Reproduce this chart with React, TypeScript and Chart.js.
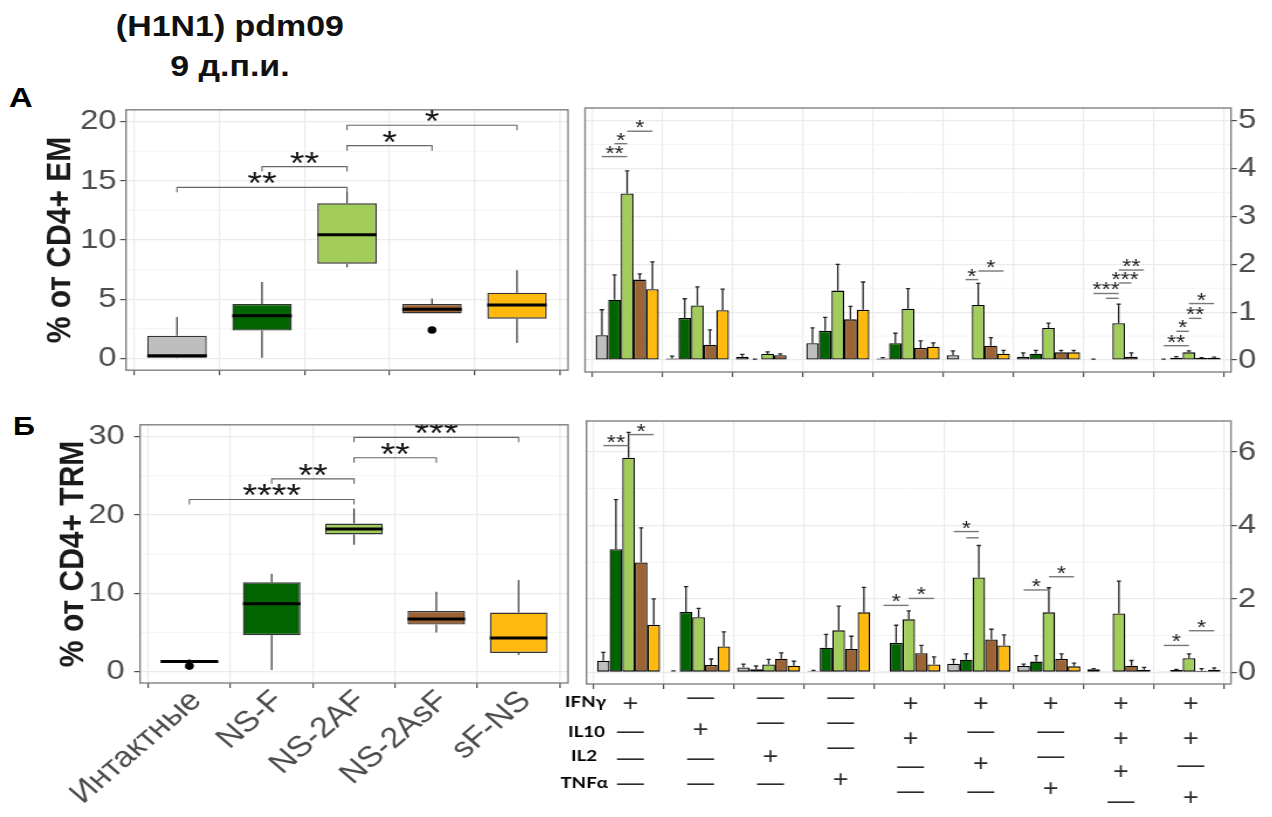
import React, { useEffect, useRef } from 'react';
import { Chart, registerables } from 'chart.js';

Chart.register(...registerables);

const FONT = '"Liberation Sans", Arial, Helvetica, sans-serif';

// ---------------- data ----------------
const groupNames = ['Интактные', 'NS-F', 'NS-2AF', 'NS-2AsF', 'sF-NS'];
const groupColors = ['#bebebe', '#006400', '#a2cd5a', '#9c6434', '#ffb90f'];

// Box plot A: % of CD4+ EM
const emTicks = [0, 5, 10, 15, 20];
const emMinor = [2.5, 7.5, 12.5, 17.5];
const emQ1 = [0.05, 2.35, 8.0, 3.8, 3.35];
const emMedian = [0.22, 3.6, 10.45, 4.15, 4.5];
const emQ3 = [1.9, 4.6, 13.1, 4.6, 5.55];
const emLow = [0.0, 0.05, 7.7, 3.8, 1.3];
const emHigh = [3.5, 6.45, 14.1, 5.05, 7.45];
const emOutliers = [[], [], [], [2.4], []];
const emBrackets = [
  { from: 1, to: 3, y: 14.45, label: '**' },
  { from: 2, to: 3, y: 16.2, label: '**' },
  { from: 3, to: 4, y: 17.97, label: '*' },
  { from: 3, to: 5, y: 19.7, label: '*' },
];

// Box plot Б: % of CD4+ TRM
const trmTicks = [0, 10, 20, 30];
const trmMinor = [5, 15, 25];
const trmQ1 = [1.13, 4.64, 17.5, 6.0, 2.38];
const trmMedian = [1.3, 8.66, 18.2, 6.7, 4.3];
const trmQ3 = [1.46, 11.4, 18.9, 7.74, 7.53];
const trmLow = [1.13, 0.2, 16.2, 5.0, 2.1];
const trmHigh = [1.6, 12.5, 20.8, 10.2, 11.7];
const trmOutliers = [[0.7], [], [], [], []];
const trmBrackets = [
  { from: 1, to: 3, y: 21.97, label: '****' },
  { from: 2, to: 3, y: 24.6, label: '**' },
  { from: 3, to: 4, y: 27.3, label: '**' },
  { from: 3, to: 5, y: 29.9, label: '***' },
];

// Cytokine combinations (9 columns)
const comboIndex = [1, 2, 3, 4, 5, 6, 7, 8, 9];
const ifngSigns = ['+', '—', '—', '—', '+', '+', '+', '+', '+'];
const il10Signs = ['—', '+', '—', '—', '+', '—', '—', '+', '+'];
const il2Signs = ['—', '—', '+', '—', '—', '+', '—', '+', '—'];
const tnfaSigns = ['—', '—', '—', '+', '—', '—', '+', '—', '+'];
const cytokineNames = ['IFNγ', 'IL10', 'IL2', 'TNFα'];

// Bar chart A (EM)
const emBarTicks = [0, 1, 2, 3, 4, 5];
const emBarMinor = [0.5, 1.5, 2.5, 3.5, 4.5];
const emGray = [0.52, 0.03, 0.07, 0.35, 0.03, 0.1, 0.07, 0.01, 0.01];
const emGrayUp = [1.05, 0.08, 0.12, 0.67, 0.05, 0.19, 0.15, 0.02, 0.02];
const emDarkGreen = [1.26, 0.88, 0.01, 0.61, 0.35, 0.01, 0.13, 0.01, 0.05];
const emDarkGreenUp = [1.78, 1.28, 0.02, 0.89, 0.56, 0.01, 0.2, 0.01, 0.07];
const emLightGreen = [3.48, 1.14, 0.13, 1.45, 1.07, 1.15, 0.67, 0.77, 0.16];
const emLightGreenUp = [3.95, 1.53, 0.17, 2.0, 1.49, 1.6, 0.77, 1.17, 0.19];
const emBrown = [1.68, 0.32, 0.1, 0.85, 0.25, 0.3, 0.16, 0.07, 0.04];
const emBrownUp = [1.8, 0.63, 0.13, 1.12, 0.4, 0.47, 0.2, 0.15, 0.05];
const emYellow = [1.48, 1.04, 0.01, 1.05, 0.28, 0.13, 0.16, 0.01, 0.05];
const emYellowUp = [2.05, 1.48, 0.01, 1.63, 0.36, 0.2, 0.2, 0.01, 0.06];
const emBarSigs = [
  { group: 1, from: 0, to: 2, y: 4.25, label: '**' },
  { group: 1, from: 1, to: 2, y: 4.52, label: '*' },
  { group: 1, from: 2, to: 4, y: 4.78, label: '*' },
  { group: 6, from: 1, to: 2, y: 1.68, label: '*' },
  { group: 6, from: 2, to: 4, y: 1.86, label: '*' },
  { group: 8, from: 0, to: 2, y: 1.39, label: '***' },
  { group: 8, from: 1, to: 2, y: 1.29, label: '' },
  { group: 8, from: 2, to: 3, y: 1.61, label: '***' },
  { group: 8, from: 2, to: 4, y: 1.88, label: '**' },
  { group: 9, from: 0, to: 2, y: 0.3, label: '**' },
  { group: 9, from: 1, to: 2, y: 0.6, label: '*' },
  { group: 9, from: 2, to: 3, y: 0.87, label: '**' },
  { group: 9, from: 2, to: 4, y: 1.18, label: '*' },
];

// Bar chart Б (TRM)
const trmBarTicks = [0, 2, 4, 6];
const trmBarMinor = [1, 3, 5];
const trmGray = [0.31, 0.02, 0.13, 0.03, 0.01, 0.23, 0.17, 0.08, 0.01];
const trmGrayUp = [0.54, 0.04, 0.22, 0.05, 0.01, 0.35, 0.22, 0.1, 0.01];
const trmDarkGreen = [3.35, 1.64, 0.08, 0.67, 0.8, 0.34, 0.29, 0.01, 0.06];
const trmDarkGreenUp = [4.7, 2.33, 0.17, 1.03, 1.28, 0.5, 0.45, 0.01, 0.08];
const trmLightGreen = [5.84, 1.5, 0.21, 1.14, 1.44, 2.58, 1.63, 1.6, 0.38];
const trmLightGreenUp = [6.53, 1.74, 0.35, 1.8, 1.67, 3.45, 2.3, 2.48, 0.5];
const trmBrown = [2.99, 0.2, 0.37, 0.63, 0.52, 0.89, 0.36, 0.18, 0.04];
const trmBrownUp = [3.93, 0.36, 0.53, 0.98, 0.73, 1.17, 0.5, 0.32, 0.1];
const trmYellow = [1.29, 0.7, 0.18, 1.63, 0.21, 0.73, 0.16, 0.07, 0.07];
const trmYellowUp = [2.0, 1.1, 0.3, 2.31, 0.42, 1.02, 0.25, 0.13, 0.12];
const trmBarSigs = [
  { group: 1, from: 0, to: 2, y: 6.17, label: '**' },
  { group: 1, from: 2, to: 4, y: 6.47, label: '*' },
  { group: 5, from: 0, to: 2, y: 1.82, label: '*' },
  { group: 5, from: 2, to: 4, y: 2.01, label: '*' },
  { group: 6, from: 0, to: 2, y: 3.83, label: '*' },
  { group: 6, from: 1, to: 2, y: 3.66, label: '' },
  { group: 7, from: 0, to: 2, y: 2.24, label: '*' },
  { group: 7, from: 2, to: 4, y: 2.6, label: '*' },
  { group: 9, from: 0, to: 2, y: 0.73, label: '*' },
  { group: 9, from: 2, to: 4, y: 1.13, label: '*' },
];

// ---------------- layout (page px) ----------------
// the whole figure is horizontally stretched by K
const K = 1.17;
const FR_TL = { L: 0, T: 90, W: 574, H: 300, area: { left: 126, right: 568, top: 108, bottom: 372 }, side: 'left' };
const FR_BL = { L: 0, T: 400, W: 574, H: 417, area: { left: 140, right: 568, top: 421, bottom: 683 }, side: 'left' };
const FR_TR = { L: 575, T: 90, W: 697, H: 300, area: { left: 585, right: 1231, top: 108, bottom: 372 }, side: 'right' };
const FR_BR = { L: 540, T: 400, W: 732, H: 417, area: { left: 586.5, right: 1231, top: 421, bottom: 684 }, side: 'right' };

const rowLabelRight = [606, 605, 597, 608];
const rowLabelY = [703, 731, 755, 782];
const tableSymbolY = [
  [703, 732, 759, 784],
  [698, 729, 759, 784],
  [698, 723, 756, 784],
  [698, 723, 748, 779],
  [703, 738, 767, 792],
  [703, 732, 763, 792],
  [703, 732, 757, 788],
  [703, 738, 771, 802],
  [703, 738, 766, 797],
];

function frame(f: any) {
  const W = Math.round(f.W / K);
  const aL = (f.area.left - f.L) / K;
  const aR = (f.area.right - f.L) / K;
  const padTop = f.area.top - f.T;
  const xHeight = f.T + f.H - f.area.bottom;
  if (f.side === 'left') {
    return { W, H: f.H, padding: { left: 0, right: W - aR, top: padTop, bottom: 0 }, yWidth: aL, xHeight };
  }
  return { W, H: f.H, padding: { left: aL, right: 0, top: padTop, bottom: 0 }, yWidth: W - aR, xHeight };
}

// ---------------- helpers ----------------
function drawCentered(ctx: any, text: string, x: number, yc: number, font: string, color: string, align: string = 'center') {
  if (!text) return;
  ctx.font = font;
  ctx.fillStyle = color;
  ctx.textAlign = align;
  ctx.textBaseline = 'alphabetic';
  const m = ctx.measureText(text);
  const asc = m.actualBoundingBoxAscent;
  const desc = m.actualBoundingBoxDescent;
  ctx.fillText(text, x, yc + (asc - desc) / 2);
}

const GRID = {
  color: '#ebebeb',
  lineWidth: 1.2,
  drawTicks: true,
  tickLength: 5,
  tickColor: '#4d4d4d',
  tickWidth: 1.2,
};

const minorGridPlugin = (vals: number[]) => ({
  id: 'minorGrid',
  beforeDatasetsDraw(chart: any) {
    const { ctx, chartArea: a } = chart;
    const y = chart.scales.y;
    ctx.save();
    ctx.strokeStyle = '#f3f3f3';
    ctx.lineWidth = 1;
    vals.forEach((v) => {
      const py = y.getPixelForValue(v);
      ctx.beginPath();
      ctx.moveTo(a.left, py);
      ctx.lineTo(a.right, py);
      ctx.stroke();
    });
    ctx.restore();
  },
});

const borderPlugin = {
  id: 'panelBorder',
  afterDatasetsDraw(chart: any) {
    const { ctx, chartArea: a } = chart;
    ctx.save();
    ctx.strokeStyle = '#808080';
    ctx.lineWidth = 1.4;
    ctx.strokeRect(a.left, a.top, a.right - a.left, a.bottom - a.top);
    ctx.restore();
  },
};

const boxPlugin = (q1: number[], med: number[], q3: number[], lo: number[], hi: number[], outl: number[][]) => ({
  id: 'boxExtras',
  afterDatasetsDraw(chart: any) {
    const ctx = chart.ctx;
    const y = chart.scales.y;
    const meta = chart.getDatasetMeta(0);
    ctx.save();
    meta.data.forEach((el: any, i: number) => {
      const x = el.x;
      const w = el.width;
      ctx.strokeStyle = '#333';
      ctx.lineWidth = 1.2;
      ctx.beginPath();
      ctx.moveTo(x, y.getPixelForValue(q3[i]));
      ctx.lineTo(x, y.getPixelForValue(hi[i]));
      ctx.moveTo(x, y.getPixelForValue(q1[i]));
      ctx.lineTo(x, y.getPixelForValue(lo[i]));
      ctx.stroke();
      ctx.strokeStyle = '#000';
      ctx.lineWidth = 3;
      const my = y.getPixelForValue(med[i]);
      ctx.beginPath();
      ctx.moveTo(x - w / 2, my);
      ctx.lineTo(x + w / 2, my);
      ctx.stroke();
      ctx.fillStyle = '#000';
      outl[i].forEach((v) => {
        ctx.beginPath();
        ctx.arc(x, y.getPixelForValue(v), 3.8, 0, Math.PI * 2);
        ctx.fill();
      });
    });
    ctx.restore();
  },
});

const bracketPlugin = (brackets: any[]) => ({
  id: 'brackets',
  afterDraw(chart: any) {
    const { ctx, chartArea: a } = chart;
    const xs = chart.scales.x;
    const ys = chart.scales.y;
    ctx.save();
    ctx.beginPath();
    ctx.rect(a.left, a.top, a.right - a.left, a.bottom - a.top);
    ctx.clip();
    brackets.forEach((b) => {
      const x1 = xs.getPixelForValue(b.from);
      const x2 = xs.getPixelForValue(b.to);
      const yy = ys.getPixelForValue(b.y);
      ctx.strokeStyle = '#666';
      ctx.lineWidth = 1.1;
      ctx.beginPath();
      ctx.moveTo(x1, yy + 5);
      ctx.lineTo(x1, yy);
      ctx.lineTo(x2, yy);
      ctx.lineTo(x2, yy + 5);
      ctx.stroke();
      drawCentered(ctx, b.label, (x1 + x2) / 2, yy - 9, `32px ${FONT}`, '#111');
    });
    ctx.restore();
  },
});

const errorBarPlugin = (uppers: number[][]) => ({
  id: 'errorBars',
  afterDatasetsDraw(chart: any) {
    const ctx = chart.ctx;
    const ys = chart.scales.y;
    ctx.save();
    ctx.strokeStyle = '#222';
    ctx.lineWidth = 1.3;
    chart.data.datasets.forEach((ds: any, di: number) => {
      const meta = chart.getDatasetMeta(di);
      meta.data.forEach((el: any, j: number) => {
        const up = uppers[di][j];
        const v = ds.data[j].y;
        if (up <= v + 0.005) return;
        const yTop = ys.getPixelForValue(up);
        const yBase = ys.getPixelForValue(v);
        ctx.beginPath();
        ctx.moveTo(el.x, yBase);
        ctx.lineTo(el.x, yTop);
        ctx.moveTo(el.x - 1.8, yTop);
        ctx.lineTo(el.x + 1.8, yTop);
        ctx.stroke();
      });
    });
    ctx.restore();
  },
});

const sigPlugin = (sigs: any[]) => ({
  id: 'sigLines',
  afterDraw(chart: any) {
    const ctx = chart.ctx;
    const ys = chart.scales.y;
    ctx.save();
    sigs.forEach((s) => {
      const x1 = chart.getDatasetMeta(s.from).data[s.group - 1].x;
      const x2 = chart.getDatasetMeta(s.to).data[s.group - 1].x;
      const yy = ys.getPixelForValue(s.y);
      ctx.strokeStyle = '#777';
      ctx.lineWidth = 1.4;
      ctx.beginPath();
      ctx.moveTo(x1, yy);
      ctx.lineTo(x2, yy);
      ctx.stroke();
      drawCentered(ctx, s.label, (x1 + x2) / 2, yy - 7, `20px ${FONT}`, '#222');
    });
    ctx.restore();
  },
});

const tablePlugin = {
  id: 'comboTable',
  afterDraw(chart: any) {
    const ctx = chart.ctx;
    const xs = chart.scales.x;
    const rows = [ifngSigns, il10Signs, il2Signs, tnfaSigns];
    ctx.save();
    cytokineNames.forEach((name, r) => {
      drawCentered(ctx, name, (rowLabelRight[r] - FR_BR.L) / K, rowLabelY[r] - FR_BR.T, `bold 16px Lato, ${FONT}`, '#000', 'right');
    });
    comboIndex.forEach((c, ci) => {
      const x = xs.getPixelForValue(c) + 1.6;
      rows.forEach((signs, r) => {
        drawCentered(ctx, signs[ci], x, tableSymbolY[ci][r] - FR_BR.T, `23px ${FONT}`, '#2a2a2a');
      });
    });
    ctx.restore();
  },
};

function makeBoxChart(canvas: HTMLCanvasElement, fr: any, o: any) {
  return new Chart(canvas, {
    type: 'bar',
    data: {
      datasets: [
        {
          data: groupNames.map((_, i) => ({ x: i + 1, y: [o.q1[i], o.q3[i]] })),
          backgroundColor: groupColors,
          borderColor: '#333',
          borderWidth: 1.4,
          borderSkipped: false,
          barPercentage: 0.7,
          categoryPercentage: 1,
        } as any,
      ],
    },
    options: {
      responsive: false,
      animation: false,
      devicePixelRatio: 1,
      events: [],
      layout: { padding: fr.padding },
      plugins: { legend: { display: false }, tooltip: { enabled: false } },
      scales: {
        x: {
          type: 'linear',
          min: 0.4,
          max: 5.6,
          offset: false,
          bounds: 'data',
          afterBuildTicks: (s: any) => {
            s.ticks = groupNames.map((_, i) => ({ value: i + 1 }));
          },
          afterFit: (s: any) => {
            s.height = fr.xHeight;
          },
          grid: GRID,
          border: { display: false },
          ticks: o.showLabels
            ? {
                display: true,
                autoSkip: false,
                minRotation: 45,
                maxRotation: 45,
                font: { family: FONT, size: 29 },
                color: '#4d4d4d',
                padding: -4,
                labelOffset: 6,
                callback: (v: any) => groupNames[Math.round(v) - 1] ?? '',
              }
            : { display: false },
        },
        y: {
          type: 'linear',
          min: o.yMin,
          max: o.yMax,
          bounds: 'data',
          afterBuildTicks: (s: any) => {
            s.ticks = o.ticks.map((v: number) => ({ value: v }));
          },
          afterFit: (s: any) => {
            s.width = fr.yWidth;
          },
          grid: GRID,
          border: { display: false },
          ticks: { font: { family: FONT, size: 28 }, color: '#4d4d4d', padding: o.tickPad },
          title: {
            display: true,
            text: o.title,
            font: { family: FONT, size: 30, weight: 'bold' },
            color: '#1a1a1a',
            padding: { top: o.titlePad, bottom: 0 },
          },
        },
      } as any,
    },
    plugins: [
      minorGridPlugin(o.minor),
      boxPlugin(o.q1, o.med, o.q3, o.lo, o.hi, o.outl),
      borderPlugin,
      bracketPlugin(o.brackets),
    ],
  } as any);
}

function makeBarChart(canvas: HTMLCanvasElement, fr: any, o: any) {
  const plugins: any[] = [minorGridPlugin(o.minor), errorBarPlugin(o.uppers), borderPlugin, sigPlugin(o.sigs)];
  if (o.table) plugins.push(tablePlugin);
  return new Chart(canvas, {
    type: 'bar',
    data: {
      datasets: o.values.map((vals: number[], di: number) => ({
        data: comboIndex.map((c, ci) => ({ x: c, y: vals[ci] })),
        backgroundColor: groupColors[di],
        borderColor: '#000',
        borderWidth: 1.3,
        borderSkipped: false,
        barPercentage: 1,
        categoryPercentage: 0.9,
      })),
    },
    options: {
      responsive: false,
      animation: false,
      devicePixelRatio: 1,
      events: [],
      layout: { padding: fr.padding },
      plugins: { legend: { display: false }, tooltip: { enabled: false } },
      scales: {
        x: {
          type: 'linear',
          min: 0.4,
          max: 9.6,
          offset: false,
          bounds: 'data',
          afterBuildTicks: (s: any) => {
            s.ticks = comboIndex.map((v) => ({ value: v }));
          },
          afterFit: (s: any) => {
            s.height = fr.xHeight;
          },
          grid: GRID,
          border: { display: false },
          ticks: { display: false },
        },
        y: {
          type: 'linear',
          position: 'right',
          min: o.yMin,
          max: o.yMax,
          bounds: 'data',
          afterBuildTicks: (s: any) => {
            s.ticks = o.ticks.map((v: number) => ({ value: v }));
          },
          afterFit: (s: any) => {
            s.width = fr.yWidth;
          },
          grid: GRID,
          border: { display: false },
          ticks: { font: { family: FONT, size: 28 }, color: '#4d4d4d', padding: 1 },
        },
      } as any,
    },
    plugins,
  } as any);
}

const ftl = frame(FR_TL);
const fbl = frame(FR_BL);
const ftr = frame(FR_TR);
const fbr = frame(FR_BR);

export default function App() {
  const tl = useRef<HTMLCanvasElement>(null);
  const tr = useRef<HTMLCanvasElement>(null);
  const bl = useRef<HTMLCanvasElement>(null);
  const br = useRef<HTMLCanvasElement>(null);

  useEffect(() => {
    const charts = [
      makeBoxChart(tl.current!, ftl, {
        q1: emQ1, med: emMedian, q3: emQ3, lo: emLow, hi: emHigh, outl: emOutliers,
        brackets: emBrackets, ticks: emTicks, minor: emMinor,
        yMin: -1, yMax: 21, title: '% от CD4+ EM', titlePad: 60 / K - 18, tickPad: 3,
        showLabels: false,
      }),
      makeBoxChart(bl.current!, fbl, {
        q1: trmQ1, med: trmMedian, q3: trmQ3, lo: trmLow, hi: trmHigh, outl: trmOutliers,
        brackets: trmBrackets, ticks: trmTicks, minor: trmMinor,
        yMin: -1.46, yMax: 31.5, title: '% от CD4+ TRM', titlePad: 73 / K - 18, tickPad: 8,
        showLabels: true,
      }),
      makeBarChart(tr.current!, ftr, {
        values: [emGray, emDarkGreen, emLightGreen, emBrown, emYellow],
        uppers: [emGrayUp, emDarkGreenUp, emLightGreenUp, emBrownUp, emYellowUp],
        sigs: emBarSigs, ticks: emBarTicks, minor: emBarMinor,
        yMin: -0.25, yMax: 5.265, table: false,
      }),
      makeBarChart(br.current!, fbr, {
        values: [trmGray, trmDarkGreen, trmLightGreen, trmBrown, trmYellow],
        uppers: [trmGrayUp, trmDarkGreenUp, trmLightGreenUp, trmBrownUp, trmYellowUp],
        sigs: trmBarSigs, ticks: trmBarTicks, minor: trmBarMinor,
        yMin: -0.32, yMax: 6.84, table: true,
      }),
    ];
    return () => charts.forEach((c) => c.destroy());
  }, []);

  const wrap = (f: any): React.CSSProperties => ({
    position: 'absolute',
    left: f.L,
    top: f.T,
    transform: `scaleX(${K})`,
    transformOrigin: '0 0',
  });

  return (
    <div style={{ position: 'absolute', left: 0, top: 0, width: 1272, height: 817, background: '#fff', fontFamily: FONT, overflow: 'hidden' }}>
      <div style={{ position: 'absolute', left: 0, top: 6, width: 393, transform: `scaleX(${K})`, transformOrigin: '0 0', textAlign: 'center', fontWeight: 'bold', fontSize: 29, lineHeight: '40px', color: '#111' }}>
        <div>(H1N1) pdm09</div>
        <div>9 д.п.и.</div>
      </div>
      <div style={{ position: 'absolute', left: 9, top: 84, transform: `scaleX(${K})`, transformOrigin: '0 0', fontWeight: 'bold', fontSize: 28, lineHeight: '28px', color: '#000' }}>А</div>
      <div style={{ position: 'absolute', left: 13, top: 413, transform: `scaleX(${K})`, transformOrigin: '0 0', fontWeight: 'bold', fontSize: 26, lineHeight: '26px', color: '#000' }}>Б</div>
      <div style={wrap(FR_TL)}>
        <canvas ref={tl} width={ftl.W} height={ftl.H} style={{ display: 'block', width: ftl.W, height: ftl.H }} />
      </div>
      <div style={wrap(FR_BL)}>
        <canvas ref={bl} width={fbl.W} height={fbl.H} style={{ display: 'block', width: fbl.W, height: fbl.H }} />
      </div>
      <div style={wrap(FR_TR)}>
        <canvas ref={tr} width={ftr.W} height={ftr.H} style={{ display: 'block', width: ftr.W, height: ftr.H }} />
      </div>
      <div style={wrap(FR_BR)}>
        <canvas ref={br} width={fbr.W} height={fbr.H} style={{ display: 'block', width: fbr.W, height: fbr.H }} />
      </div>
    </div>
  );
}
